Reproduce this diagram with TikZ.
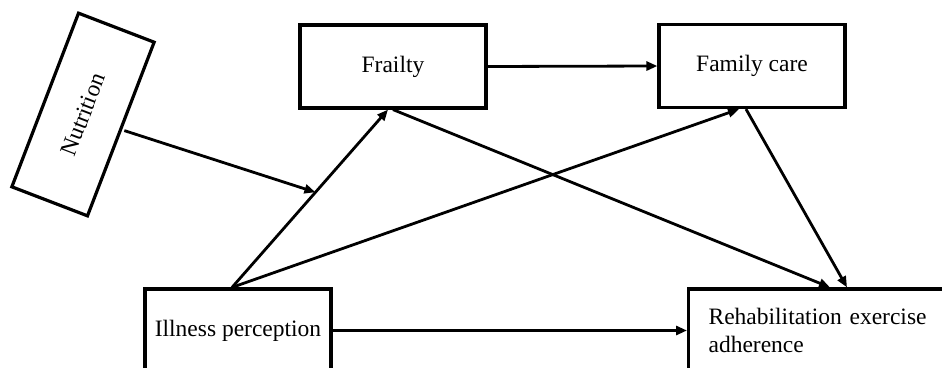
\documentclass[tikz,border=0pt]{standalone}
\usepackage{fontspec}
\setmainfont{Liberation Serif}
\usetikzlibrary{arrows.meta,calc}
\begin{document}
\begin{tikzpicture}[x=1pt,y=-1pt,
  box/.style={draw,line width=3.2pt,minimum width=186pt,minimum height=83pt,inner sep=0pt,
    font=\fontsize{23.5}{28}\selectfont},
  arr/.style={line width=2.8pt,-{Triangle[length=11pt,width=9pt]}}]
\useasboundingbox (0,0) rectangle (942,367);
\clip (0,0) rectangle (942,367);
\node[box] (frailty) at (393,66.5) {Frailty};
\node[box] (family) at (752,66) {Family care};
\node[box] (illness) at (238,330.5) {Illness perception};
\node[box,anchor=west,align=left,text width=230pt,inner xsep=20pt] (rehab) at (687,330.5) {Rehabilitation exercise\\adherence};
\node[box,rotate=69,minimum height=81pt] (nutrition) at (83,114.5) {Nutrition};
\coordinate (ip) at ([xshift=-6pt]illness.north);
\coordinate (ftip) at ([xshift=-5pt]frailty.south);
\coordinate (mid) at ($(ip)!0.535!(ftip)$);
\draw[arr] (frailty.east) -- (family.west);
\draw[arr] (ip) -- (ftip);
\draw[arr] (ip) -- ([xshift=-13pt]family.south);
\draw[arr] (frailty.south) -- ([xshift=143pt]rehab.north west);
\draw[arr] ([xshift=-6pt]family.south) -- ([xshift=160pt]rehab.north west);
\draw[arr] (illness.east) -- (illness.east -| rehab.west);
\draw[arr] ([shift={(2pt,-1pt)}]nutrition.south) -- (mid);
\end{tikzpicture}
\end{document}
